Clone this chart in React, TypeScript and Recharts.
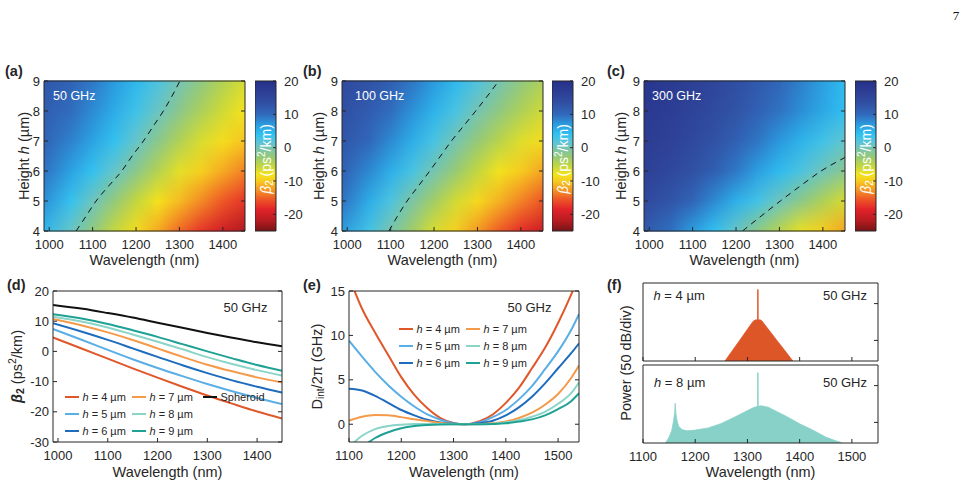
import React from "react";
import { ComposedChart, Line, Area, XAxis, YAxis, ReferenceArea, Legend } from "recharts";

const FONT = '"Liberation Sans", Arial, Helvetica, sans-serif';
const INK = "#262626";
const TICK = { fontSize: 13, fill: INK, fontFamily: FONT };
const blank = () => "";

// ---- panels (a)-(d): beta2 (ps^2/km) vs wavelength (nm) and height (um)
const waves = [990, 1050, 1100, 1150, 1200, 1250, 1300, 1350, 1400, 1450];
const heights = [4, 5, 6, 7, 8, 9];
const waveTicks = [1000, 1100, 1200, 1300, 1400];
const HEAT_X: [number, number] = [988, 1451];

// 50 GHz cuts, shared by map (a) and panel (d)
const b50h4 = [4.6, 0.8, -2.4, -5.6, -8.7, -11.7, -14.6, -17.3, -19.9, -22.2];
const b50h5 = [7.4, 3.7, 0.5, -2.6, -5.5, -8.2, -10.8, -13.2, -15.4, -17.4];
const b50h6 = [9.3, 6.4, 3.8, 1.0, -1.8, -4.6, -7.2, -9.6, -11.7, -13.6];
const b50h7 = [10.7, 8.5, 6.3, 3.8, 1.0, -1.8, -4.4, -6.6, -8.6, -10.3];
const b50h8 = [11.5, 9.8, 7.9, 5.6, 3.2, 0.7, -1.9, -4.2, -6.2, -8.0];
const b50h9 = [12.3, 10.8, 9.1, 7.0, 4.8, 2.4, 0.0, -2.3, -4.5, -6.4];
const spheroid = [15.4, 14.1, 12.7, 11.2, 9.5, 7.8, 6.1, 4.5, 3.0, 1.7];
const beta50 = [b50h4, b50h5, b50h6, b50h7, b50h8, b50h9];

// 100 GHz map (b), rows h = 4..9
const beta100 = [
  [6.7, 2.9, -0.3, -3.5, -6.6, -9.6, -12.5, -15.2, -17.8, -20.1],
  [9.3, 5.6, 2.4, -0.7, -3.6, -6.3, -8.9, -11.3, -13.5, -15.5],
  [11.0, 8.1, 5.5, 2.7, -0.1, -2.9, -5.5, -7.9, -10.0, -11.9],
  [12.4, 10.2, 8.0, 5.5, 2.7, -0.1, -2.7, -4.9, -6.9, -8.6],
  [13.4, 11.7, 9.8, 7.5, 5.1, 2.6, 0.0, -2.3, -4.3, -6.1],
  [14.5, 13.0, 11.3, 9.2, 7.0, 4.6, 2.2, -0.1, -2.3, -4.2],
];

// 300 GHz map (c), rows h = 4..9
const beta300 = [
  [12.0, 9.6, 6.8, 3.9, 0.9, -2.0, -4.8, -7.4, -9.8, -12.0],
  [14.5, 12.6, 10.5, 8.0, 5.3, 2.9, 0.4, -2.0, -4.3, -6.5],
  [16.2, 14.8, 13.2, 11.3, 9.1, 6.6, 4.5, 2.4, 0.3, -1.6],
  [17.2, 16.0, 14.6, 13.0, 11.2, 9.2, 7.1, 5.1, 3.1, 1.2],
  [18.0, 16.9, 15.7, 14.3, 12.8, 11.1, 9.4, 7.7, 5.9, 4.2],
  [18.6, 17.6, 16.5, 15.2, 13.7, 12.1, 10.4, 8.6, 6.6, 4.5],
];

// beta2 = 0 contours (dashed)
const zeroH = [4, 4.5, 5, 5.5, 6, 6.5, 7, 7.5, 8, 8.5, 9];
const zeroW50 = [1062, 1085, 1108, 1137, 1167, 1191, 1217, 1240, 1263, 1283, 1301];
const zeroW100 = [1096, 1116, 1138, 1164, 1190, 1215, 1240, 1268, 1296, 1323, 1349];
const zeroH300 = [4, 4.5, 5, 5.5, 6, 6.45];
const zeroW300 = [1215, 1258, 1302, 1348, 1396, 1451];

// colour bar
const barTicks = [20, 10, 0, -10, -20];
const barEnds = [0, 1];

// ---- panel (e): Dint/2pi (GHz)
const dintWaves = [1100, 1125, 1150, 1175, 1200, 1225, 1250, 1275, 1300, 1320, 1350, 1375, 1400, 1425, 1450, 1475, 1500, 1525, 1540];
const dH4 = [16.6, 13.0, 10.3, 7.8, 5.3, 3.3, 1.8, 0.7, 0.15, 0, 0.35, 1.1, 2.4, 4.1, 6.3, 8.6, 11.4, 14.6, 16.7];
const dH5 = [9.4, 7.6, 5.9, 4.4, 3.1, 2.0, 1.1, 0.5, 0.1, 0, 0.23, 0.8, 1.6, 2.8, 4.3, 6.2, 8.2, 10.6, 12.4];
const dH6 = [4.0, 3.8, 3.2, 2.4, 1.6, 1.0, 0.5, 0.2, 0.05, 0, 0.12, 0.4, 1.0, 1.9, 3.1, 4.6, 6.3, 8.0, 9.1];
const dH7 = [0.4, 0.85, 1.05, 1.0, 0.8, 0.55, 0.35, 0.15, 0.04, 0, 0.03, 0.1, 0.3, 0.7, 1.3, 2.2, 3.4, 5.2, 6.6];
const dH8 = [-2.6, -1.3, -0.55, -0.2, -0.05, 0.02, 0.03, 0.02, 0.01, 0, 0.01, 0.05, 0.2, 0.45, 0.85, 1.4, 2.3, 3.5, 4.7];
const dH9 = [-3.8, -2.6, -1.55, -0.9, -0.45, -0.2, -0.08, -0.02, 0, 0, 0, 0.03, 0.1, 0.3, 0.55, 1.0, 1.7, 2.6, 3.5];

// ---- panel (f): comb spectra (dB)
const specW4 = [1250, 1257, 1270, 1285, 1300, 1311, 1315, 1319.4, 1319.6, 1320.4, 1320.6, 1325, 1327, 1340, 1355, 1370, 1387, 1395];
const specP4 = [-90, -78, -65, -50, -35, -24, -22.3, -21.8, 19, 19, -21.8, -22.3, -23, -34.9, -48.7, -62.4, -78, -90];
const specW8 = [1135, 1143, 1150, 1155, 1158, 1160.5, 1161.7, 1163, 1165, 1168, 1175, 1185, 1200, 1225, 1250, 1275, 1300, 1310, 1319.4, 1319.6, 1320.4, 1320.6, 1327, 1340, 1350, 1375, 1400, 1425, 1450, 1465, 1482, 1490];
const specP8 = [-90, -78, -70, -61, -50, -38, -24, -38, -47, -55, -60, -61.5, -60.5, -57.5, -51.5, -43, -34, -30.5, -28, 17.5, 17.5, -28, -27.5, -29.5, -33, -42, -52, -60.5, -70, -74, -78, -90];

const C4 = "#e0572a", C5 = "#5aaee6", C6 = "#1f6cbd", C7 = "#f49a4b", C8 = "#8ad5c8", C9 = "#1fa194";

const dSeries = [
  { key: "h4", name: "h = 4 µm", color: C4 },
  { key: "h5", name: "h = 5 µm", color: C5 },
  { key: "h6", name: "h = 6 µm", color: C6 },
  { key: "h7", name: "h = 7 µm", color: C7 },
  { key: "h8", name: "h = 8 µm", color: C8 },
  { key: "h9", name: "h = 9 µm", color: C9 },
  { key: "sph", name: "Spheroid", color: "#111111" },
];
const eSeries = dSeries.slice(0, 6);

const dTable = waves.map((w, i) => ({
  w, h4: b50h4[i], h5: b50h5[i], h6: b50h6[i], h7: b50h7[i], h8: b50h8[i], h9: b50h9[i], sph: spheroid[i],
}));
const eTable = dintWaves.map((w, i) => ({ w, h4: dH4[i], h5: dH5[i], h6: dH6[i], h7: dH7[i], h8: dH8[i], h9: dH9[i] }));
const fTop = specW4.map((w, i) => ({ w, p: specP4[i] }));
const fBottom = specW8.map((w, i) => ({ w, p: specP8[i] }));
const barTable = barEnds.map((x) => ({ x }));

// colormap of the beta2 maps
const CMAP: [number, string][] = [
  [-25, "#741417"], [-22, "#b51b20"], [-18.5, "#e1232a"], [-15.5, "#ee5627"], [-12.5, "#f49a25"],
  [-10, "#f6cb20"], [-8, "#f3e31e"], [-5.5, "#c2d640"], [-3, "#98ca72"], [-0.5, "#7cc4a8"],
  [1.5, "#5ec4d6"], [4, "#30c1f1"], [7, "#2b9ade"], [10, "#3169bb"], [13, "#3152a5"],
  [16, "#2e4297"], [20, "#27308a"],
];

function mix(a: string, b: string, t: number) {
  const pa = [1, 3, 5].map((i) => parseInt(a.slice(i, i + 2), 16));
  const pb = [1, 3, 5].map((i) => parseInt(b.slice(i, i + 2), 16));
  return "rgb(" + pa.map((v, k) => Math.round(v + (pb[k] - v) * t)).join(",") + ")";
}

function cmap(v: number) {
  if (v <= CMAP[0][0]) return CMAP[0][1];
  for (let k = 1; k < CMAP.length; k++) {
    if (v <= CMAP[k][0]) {
      const [v0, c0] = CMAP[k - 1];
      const [v1, c1] = CMAP[k];
      return mix(c0, c1, (v - v0) / (v1 - v0));
    }
  }
  return CMAP[CMAP.length - 1][1];
}

// box axes: ticks pointing inward on all four sides
function frameAxes(o: any) {
  const { xDomain, xTicks, yDomain, yTicks, yw, xh, xLabels = true, leftTicks = true } = o;
  return [
    <XAxis key="xb" dataKey="w" type="number" domain={xDomain} ticks={xTicks} interval={0} allowDataOverflow
      height={xh} stroke={INK} tick={TICK} tickSize={-4} tickMargin={13} tickFormatter={xLabels ? undefined : blank} />,
    <XAxis key="xt" xAxisId="top" orientation="top" type="number" domain={xDomain} ticks={xTicks} interval={0}
      allowDataOverflow height={1} stroke={INK} tickSize={-4} tickFormatter={blank} />,
    <YAxis key="yl" type="number" domain={yDomain} ticks={yTicks} interval={0} allowDataOverflow width={yw}
      stroke={INK} tick={leftTicks ? TICK : false} tickLine={leftTicks} tickSize={-4} tickMargin={8} />,
    <YAxis key="yr" yAxisId="right" orientation="right" type="number" domain={yDomain} ticks={yTicks} interval={0}
      allowDataOverflow width={1} stroke={INK} tickSize={-4} tickFormatter={blank} />,
  ];
}

function HeatMap({ id, left, rows, zeroW, zeroHs }: any) {
  const yw = 44, xh = 40, W = 201, H = 150;
  const span = HEAT_X[1] - HEAT_X[0];
  const table = zeroW.map((w: number, i: number) => ({ w, h: zeroHs[i] }));
  return (
    <div style={{ position: "absolute", left: left - yw, top: 71 }}>
      <ComposedChart width={yw + W + 10} height={10 + H + xh} data={table} margin={{ top: 9, right: 9, bottom: 0, left: 0 }}>
        <defs>
          {rows.map((r: number[], i: number) => (
            <linearGradient key={i} id={`${id}-row${i}`} x1="0" y1="0" x2="1" y2="0">
              {waves.map((w, j) => (
                <stop key={j} offset={(w - HEAT_X[0]) / span} stopColor={cmap(r[j])} />
              ))}
            </linearGradient>
          ))}
          <linearGradient id={`${id}-fade`} x1="0" y1="0" x2="0" y2="1">
            <stop offset="0" stopColor="#fff" />
            <stop offset="1" stopColor="#000" />
          </linearGradient>
          <mask id={`${id}-mask`} maskContentUnits="objectBoundingBox">
            <rect x="0" y="0" width="1" height="1" fill={`url(#${id}-fade)`} />
          </mask>
        </defs>
        {heights.slice(0, -1).map((h, i) => (
          <ReferenceArea key={h} x1={HEAT_X[0]} x2={HEAT_X[1]} y1={h} y2={heights[i + 1]} ifOverflow="hidden"
            shape={(p: any) => (
              <g>
                <rect x={p.x} y={p.y - 0.5} width={p.width} height={p.height + 1} fill={`url(#${id}-row${i})`} />
                <rect x={p.x} y={p.y} width={p.width} height={p.height} fill={`url(#${id}-row${i + 1})`} mask={`url(#${id}-mask)`} />
              </g>
            )} />
        ))}
        <Line dataKey="h" type="monotone" stroke="#111" strokeWidth={1} strokeDasharray="6 5" dot={false}
          activeDot={false} isAnimationActive={false} />
        {frameAxes({ xDomain: HEAT_X, xTicks: waveTicks, yDomain: [4, 9], yTicks: heights, yw, xh })}
      </ComposedChart>
    </div>
  );
}

function ColorBar({ id, left }: any) {
  const stops = CMAP.slice().reverse();
  return (
    <div style={{ position: "absolute", left, top: 71 }}>
      <ComposedChart width={21 + 32} height={170} data={barTable} margin={{ top: 10, right: 0, bottom: 10, left: 0 }}>
        <defs>
          <linearGradient id={`${id}-bar`} x1="0" y1="0" x2="0" y2="1">
            {stops.map(([v, c]) => (
              <stop key={v} offset={(20 - v) / 45} stopColor={c} />
            ))}
          </linearGradient>
        </defs>
        <XAxis dataKey="x" type="number" domain={[0, 1]} hide allowDataOverflow />
        <YAxis orientation="right" type="number" domain={[-25, 20]} ticks={barTicks} interval={0}
          allowDataOverflow width={32} axisLine={false} stroke={INK} tick={TICK} tickSize={-3} tickMargin={11} />
        <ReferenceArea x1={0} x2={1} y1={-25} y2={20} ifOverflow="visible" fill={`url(#${id}-bar)`} fillOpacity={1}
          stroke={INK} strokeWidth={1} />
      </ComposedChart>
    </div>
  );
}

function legendContent(series: any[], cols: number[]) {
  return (props: any) => {
    const payload = props.payload || [];
    return (
      <svg width={260} height={56} style={{ display: "block", overflow: "visible" }}>
        {series.map((s, i) => {
          const item = payload.find((p: any) => p.dataKey === s.key);
          const color = item ? item.color : s.color;
          const x = cols[Math.floor(i / 3)];
          const y = 8 + (i % 3) * 17;
          return (
            <g key={s.key}>
              <line x1={x} x2={x + 14} y1={y} y2={y} stroke={color} strokeWidth={2} />
              <text x={x + 17.5} y={y + 4} fontSize={11} fontFamily={FONT} fill={INK}>
                {s.name.startsWith("h ") ? (
                  <>
                    <tspan fontStyle="italic">h</tspan>
                    {s.name.slice(1)}
                  </>
                ) : (
                  s.name
                )}
              </text>
            </g>
          );
        })}
      </svg>
    );
  };
}

function BetaPanel() {
  const yw = 50, xh = 40;
  return (
    <div style={{ position: "absolute", left: 53 - yw, top: 281 }}>
      <ComposedChart width={yw + 229 + 10} height={10 + 151 + xh} data={dTable} margin={{ top: 9, right: 9, bottom: 0, left: 0 }}>
        {dSeries.map((s) => (
          <Line key={s.key} dataKey={s.key} name={s.name} type="monotone" stroke={s.color} strokeWidth={2}
            dot={false} activeDot={false} isAnimationActive={false} />
        ))}
        {frameAxes({ xDomain: [990, 1450], xTicks: waveTicks, yDomain: [-30, 20], yTicks: [-30, -20, -10, 0, 10, 20], yw, xh })}
        <Legend layout="horizontal" verticalAlign="middle" align="center"
          wrapperStyle={{ left: 62, top: 108, width: 230, height: 56 }} content={legendContent(dSeries, [0, 67, 138])} />
      </ComposedChart>
    </div>
  );
}

function DintPanel() {
  const yw = 45, xh = 40;
  return (
    <div style={{ position: "absolute", left: 349 - yw, top: 281 }}>
      <ComposedChart width={yw + 230 + 10} height={10 + 151 + xh} data={eTable} margin={{ top: 9, right: 9, bottom: 0, left: 0 }}>
        {eSeries.map((s) => (
          <Line key={s.key} dataKey={s.key} name={s.name} type="monotone" stroke={s.color} strokeWidth={2}
            dot={false} activeDot={false} isAnimationActive={false} />
        ))}
        {frameAxes({ xDomain: [1100, 1540], xTicks: [1100, 1200, 1300, 1400, 1500], yDomain: [-2, 15], yTicks: [0, 5, 10, 15], yw, xh })}
        <Legend layout="horizontal" verticalAlign="middle" align="center"
          wrapperStyle={{ left: 95, top: 40, width: 160, height: 56 }} content={legendContent(eSeries, [0, 67])} />
      </ComposedChart>
    </div>
  );
}

function SpectrumPanel({ top, data, color, xLabels }: any) {
  const yw = 20, xh = xLabels ? 40 : 1;
  return (
    <div style={{ position: "absolute", left: 643 - yw, top: top - 10 }}>
      <ComposedChart width={yw + 235 + 10} height={10 + 78 + xh} data={data} margin={{ top: 9, right: 9, bottom: 0, left: 0 }}>
        <Area dataKey="p" type="linear" baseValue="dataMin" stroke={color} strokeWidth={0.8} fill={color} fillOpacity={1}
          dot={false} activeDot={false} isAnimationActive={false} />
        {frameAxes({ xDomain: [1100, 1550], xTicks: [1100, 1200, 1300, 1400, 1500], yDomain: [-78, 28], yTicks: [-50, 0],
          yw, xh, xLabels, leftTicks: false })}
      </ComposedChart>
    </div>
  );
}

function Overlay() {
  const letters: [string, number, number][] = [
    ["(a)", 5, 76], ["(b)", 303, 76], ["(c)", 607, 76], ["(d)", 7, 289.5], ["(e)", 303, 289.5], ["(f)", 607, 289.5],
  ];
  const rot = (x: number, y: number) => `rotate(-90 ${x} ${y})`;
  const base = { fontFamily: FONT, fill: INK };
  return (
    <svg width={970} height={488} style={{ position: "absolute", left: 0, top: 0, pointerEvents: "none" }}>
      <text x={956} y={20} fontSize={13} fontFamily='"Liberation Serif", "Times New Roman", serif' textAnchor="middle" fill="#111">7</text>
      {letters.map(([s, x, y]) => (
        <text key={s} x={x} y={y} fontSize={14.5} fontWeight="bold" {...base}>{s}</text>
      ))}
      {[144.5, 442.5, 744.5].map((cx) => (
        <text key={cx} x={cx} y={265} fontSize={14.5} textAnchor="middle" {...base}>Wavelength (nm)</text>
      ))}
      {[167.5, 464, 760.5].map((cx) => (
        <text key={cx} x={cx} y={476.5} fontSize={14.5} textAnchor="middle" {...base}>Wavelength (nm)</text>
      ))}
      {[24, 319, 621].map((cx) => (
        <text key={cx} x={cx} y={156} transform={rot(cx, 156)} textAnchor="middle" dominantBaseline="central" fontSize={14.5} {...base}>
          Height <tspan fontStyle="italic">h</tspan> (µm)
        </text>
      ))}
      {[265.5, 562.5, 865.5].map((cx) => (
        <text key={cx} x={cx} y={159} transform={rot(cx, 159)} textAnchor="middle" dominantBaseline="central" fontSize={14}
          fontFamily={FONT} fill="#ffffff">
          <tspan fontStyle="italic">β</tspan>
          <tspan fontSize={10} dy={3}>2</tspan>
          <tspan dy={-3}> (ps</tspan>
          <tspan fontSize={10} dy={-5}>2</tspan>
          <tspan dy={5}>/km)</tspan>
        </text>
      ))}
      <text x={17} y={366.5} transform={rot(17, 366.5)} textAnchor="middle" dominantBaseline="central" fontSize={14.5} {...base}>
        <tspan fontStyle="italic" fontWeight="bold">β</tspan>
        <tspan fontSize={10.5} dy={3} fontWeight="bold">2</tspan>
        <tspan dy={-3}> (ps</tspan>
        <tspan fontSize={10.5} dy={-5}>2</tspan>
        <tspan dy={5}>/km)</tspan>
      </text>
      <text x={316.5} y={366.5} transform={rot(316.5, 366.5)} textAnchor="middle" dominantBaseline="central" fontSize={14.5} {...base}>
        D<tspan fontSize={10} dy={3}>int</tspan>
        <tspan dy={-3}>/2π (GHz)</tspan>
      </text>
      <text x={626} y={363} transform={rot(626, 363)} textAnchor="middle" dominantBaseline="central" fontSize={14.5} {...base}>
        Power (50 dB/div)
      </text>
      <text x={53} y={100} fontSize={12.5} fontFamily={FONT} fill="#ffffff">50 GHz</text>
      <text x={355} y={100} fontSize={12.5} fontFamily={FONT} fill="#ffffff">100 GHz</text>
      <text x={652} y={100} fontSize={12.5} fontFamily={FONT} fill="#ffffff">300 GHz</text>
      <text x={267.5} y={312} fontSize={13} textAnchor="end" {...base}>50 GHz</text>
      <text x={551.5} y={312} fontSize={13} textAnchor="end" {...base}>50 GHz</text>
      <text x={653.5} y={300} fontSize={13} {...base}><tspan fontStyle="italic">h</tspan> = 4 µm</text>
      <text x={867} y={300} fontSize={13} textAnchor="end" {...base}>50 GHz</text>
      <text x={654} y={386.5} fontSize={13} {...base}><tspan fontStyle="italic">h</tspan> = 8 µm</text>
      <text x={867} y={386.5} fontSize={13} textAnchor="end" {...base}>50 GHz</text>
    </svg>
  );
}

export default function App() {
  return (
    <div style={{ position: "absolute", left: 0, top: 0, width: 970, height: 488, background: "#fff", overflow: "hidden" }}>
      <HeatMap id="ma" left={44} rows={beta50} zeroW={zeroW50} zeroHs={zeroH} />
      <HeatMap id="mb" left={342} rows={beta100} zeroW={zeroW100} zeroHs={zeroH} />
      <HeatMap id="mc" left={644} rows={beta300} zeroW={zeroW300} zeroHs={zeroH300} />
      <ColorBar id="ca" left={255} />
      <ColorBar id="cb" left={552} />
      <ColorBar id="cc" left={855} />
      <BetaPanel />
      <DintPanel />
      <SpectrumPanel top={283} data={fTop} color="#dd5627" xLabels={false} />
      <SpectrumPanel top={365} data={fBottom} color="#88d1c8" xLabels />
      <Overlay />
    </div>
  );
}
